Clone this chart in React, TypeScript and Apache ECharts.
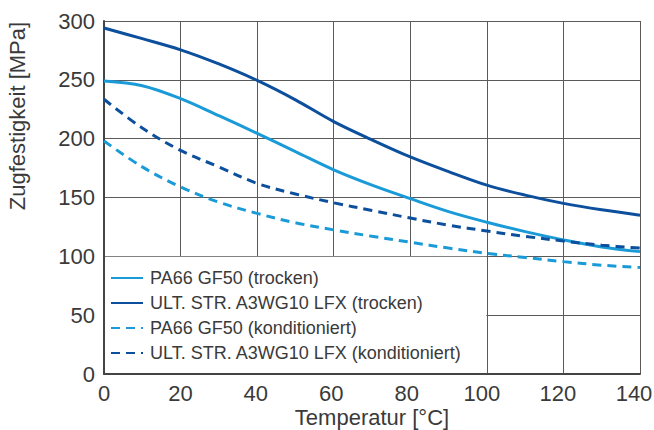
import React, { useEffect, useRef } from "react";
import * as echarts from "echarts";

// Temperature samples (°C) and tensile strength values (MPa)
const temperature = [0, 10, 20, 30, 40, 50, 60, 70, 80, 90, 100, 110, 120, 130, 140];
const pa66Dry = [249, 245, 234, 219.5, 204.5, 189, 173.5, 160.5, 149, 138, 129, 121, 114, 108, 104];
const ultDry = [294, 285, 275.5, 263.5, 249.5, 233, 214.5, 199, 184.5, 172, 160.5, 152, 145, 139.5, 135];
const pa66Cond = [198, 176, 159, 146, 136.5, 128.5, 122.5, 117, 112, 107, 102.5, 99, 95.5, 92.5, 90.5];
const ultCond = [233.5, 209, 190, 176, 162, 153, 145.5, 139, 132.5, 126.5, 121.5, 117, 113, 109.5, 107];

const seriesNames = [
  "PA66 GF50 (trocken)",
  "ULT. STR. A3WG10 LFX (trocken)",
  "PA66 GF50 (konditioniert)",
  "ULT. STR. A3WG10 LFX (konditioniert)",
];

const xTicks = { min: 0, max: 140, interval: 20 };
const yTicks = { min: 0, max: 300, interval: 50 };
const xTickLabels = [0, 20, 40, 60, 80, 100, 120, 140];
// Right padding per x tick label, nudging the wider labels left of their tick
const xLabelPad = [0, 0, 3, 5, 7, 10, 11, 12];

// Corner of the legend panel, in data units
const legendCorner = [100, 100];

const LIGHT = "#1a9bd8";
const DARK = "#0c4f9c";
const FONT = "'Liberation Sans', Arial, sans-serif";
const TEXT = "#3a3a3a";
const GRID = "#5a5a5a";

function pairs(values: number[]) {
  return temperature.map((t, i) => [t, values[i]]);
}

export default function App() {
  const ref = useRef<HTMLDivElement>(null);

  useEffect(() => {
    if (!ref.current) return;
    const chart = echarts.init(ref.current, null, { renderer: "svg" });

    const line = (name: string, data: number[], color: string, dashed: boolean) => ({
      name,
      type: "line",
      data: pairs(data),
      smooth: 0.35,
      symbol: "none",
      z: 3,
      lineStyle: {
        color,
        width: 3,
        type: dashed ? [9, 6] : "solid",
      },
      itemStyle: { color },
    });

    const xRich: Record<string, any> = {};
    xTickLabels.forEach((v, i) => {
      xRich["t" + i] = {
        fontSize: 22,
        lineHeight: 20,
        color: TEXT,
        fontFamily: FONT,
        padding: [0, xLabelPad[i], 0, 0],
      };
    });

    chart.setOption({
      animation: false,
      textStyle: { fontFamily: FONT },
      grid: { left: 104, right: 14, top: 21, bottom: 56, containLabel: false, outerBoundsMode: "none" },
      xAxis: {
        type: "value",
        ...xTicks,
        name: "Temperatur [°C]",
        nameLocation: "middle",
        nameGap: 33,
        nameMoveOverlap: false,
        nameTextStyle: { fontSize: 22, lineHeight: 20, color: TEXT, fontFamily: FONT },
        axisLine: { show: true, lineStyle: { color: "#444", width: 2 } },
        axisTick: { show: false },
        axisLabel: {
          fontSize: 22,
          lineHeight: 20,
          color: TEXT,
          margin: 9,
          fontFamily: FONT,
          formatter: (v: number) => {
            const i = xTickLabels.indexOf(v);
            return i < 0 ? String(v) : `{t${i}|${v}}`;
          },
          rich: xRich,
        },
        splitLine: { show: true, lineStyle: { color: GRID, width: 1 } },
      },
      yAxis: {
        type: "value",
        ...yTicks,
        axisLine: { show: true, lineStyle: { color: "#444", width: 2 } },
        axisTick: { show: false },
        axisLabel: { fontSize: 22, color: TEXT, margin: 9, fontFamily: FONT },
        splitLine: { show: true, lineStyle: { color: GRID, width: 1 } },
      },
      legend: {
        orient: "vertical",
        left: 110,
        top: 269,
        padding: 0,
        itemWidth: 32,
        itemHeight: 14,
        itemGap: 7,
        z: 5,
        itemStyle: { opacity: 0 },
        textStyle: { fontSize: 18, lineHeight: 18, color: TEXT, fontFamily: FONT, padding: [0, 0, 0, 2] },
        data: seriesNames,
      },
      series: [
        line(seriesNames[0], pa66Dry, LIGHT, false),
        line(seriesNames[1], ultDry, DARK, false),
        line(seriesNames[2], pa66Cond, LIGHT, true),
        line(seriesNames[3], ultCond, DARK, true),
      ],
    });

    // Legend panel and rotated y-axis title, placed from the axis scales
    const origin = chart.convertToPixel({ gridIndex: 0 }, [xTicks.min, yTicks.min]) as number[];
    const corner = chart.convertToPixel({ gridIndex: 0 }, legendCorner) as number[];
    const top = chart.convertToPixel({ gridIndex: 0 }, [xTicks.min, yTicks.max]) as number[];

    chart.setOption({
      graphic: [
        {
          type: "rect",
          z: 1,
          silent: true,
          shape: {
            x: origin[0] + 1,
            y: corner[1] + 0.5,
            width: corner[0] - origin[0] - 1.5,
            height: origin[1] - corner[1] - 1.5,
          },
          style: { fill: "#ffffff" },
        },
        {
          type: "text",
          z: 5,
          x: 17,
          y: top[1] + 95,
          rotation: Math.PI / 2,
          style: {
            text: "Zugfestigkeit [MPa]",
            fontSize: 22,
            fontFamily: FONT,
            fill: TEXT,
            align: "center",
            verticalAlign: "middle",
          },
        },
      ],
    });

    return () => chart.dispose();
  }, []);

  return (
    <div
      ref={ref}
      style={{ position: "fixed", left: 0, top: 0, width: 654, height: 430, background: "#fff" }}
    />
  );
}
